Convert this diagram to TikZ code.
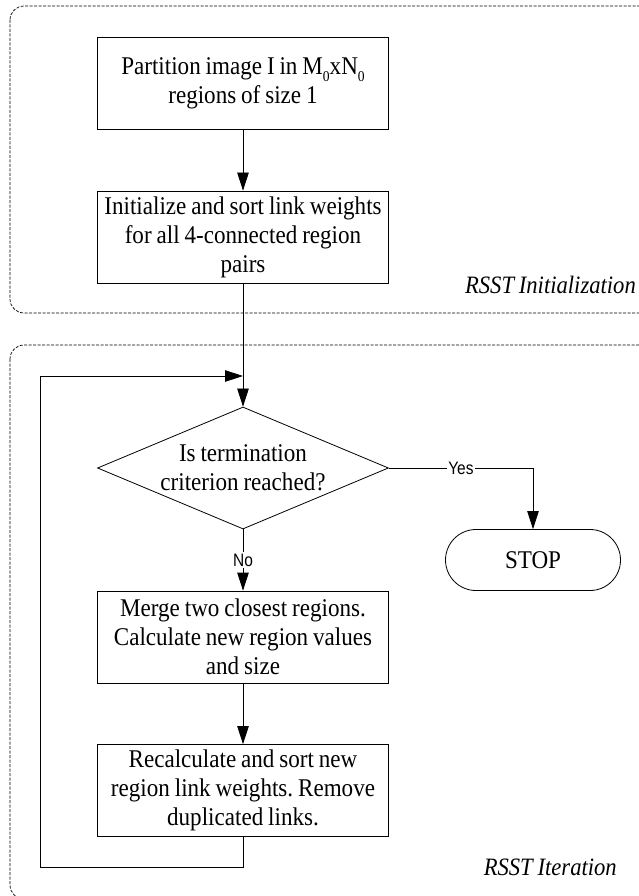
\documentclass[tikz,border=0pt]{standalone}
\usepackage{fontspec}
\setmainfont{Liberation Serif}[FakeStretch=0.905,WordSpace=0.85]
\newfontfamily\arialfont{Liberation Sans}[FakeStretch=0.86]
\usetikzlibrary{arrows.meta,shapes.geometric,shapes.misc}
\frenchspacing
\newcommand{\lowsub}[1]{\raisebox{-0.3em}{\fontsize{15}{15}\selectfont #1}}
\begin{document}
\begin{tikzpicture}[x=1pt,y=-1pt,
  procbox/.style={draw, line width=0.8pt, minimum width=291pt, minimum height=92pt,
    inner sep=0pt, align=center, font=\fontsize{25.5}{29}\selectfont},
  decision/.style={draw, line width=0.8pt, shape=diamond, aspect=2.385,
    minimum width=291pt, minimum height=122pt, inner sep=0pt, align=center,
    font=\fontsize{25.5}{29}\selectfont},
  terminal/.style={draw, line width=0.8pt, shape=rounded rectangle,
    minimum width=175pt, minimum height=61pt, inner sep=0pt,
    font=\fontsize{25.5}{29}\selectfont},
  arr/.style={-{Triangle[length=18pt,width=11.5pt]}, line width=0.8pt},
  yesno/.style={fill=white, inner sep=1.5pt, font=\arialfont\fontsize{18}{18}\selectfont},
  grouplbl/.style={anchor=east, inner sep=0pt, font=\itshape\fontsize{25}{29}\selectfont},
  dashbox/.style={draw, line width=0.7pt, dash pattern=on 3pt off 1.5pt, rounded corners=14pt}
]
\useasboundingbox (0,0) rectangle (639,896);
\clip (0,0) rectangle (639,896);
\fill[white] (0,0) rectangle (639,896);

% group frames
\draw[dashbox] (10,6) rectangle (680,313);
\draw[dashbox] (10,345) rectangle (680,899);

% nodes
\node[procbox] (b1) at (243,83) {Partition image I in M\lowsub{0}xN\lowsub{0}\\regions of size 1};
\node[procbox] (b2) at (243,237) {Initialize and sort link weights\\for all 4-connected region\\pairs};
\node[decision] (dia) at (243,468) {Is termination\\criterion reached?};
\node[terminal] (stop) at (533,560) {STOP};
\node[procbox] (b3) at (243,637) {Merge two closest regions.\\Calculate new region values\\and size};
\node[procbox] (b4) at (243,790.5) {Recalculate and sort new\\region link weights. Remove\\duplicated links.};

\node[grouplbl] (initlbl) at (636,285) {RSST Initialization};
\node[grouplbl] (iterlbl) at (617,867) {RSST Iteration};

% connectors
\coordinate (ycorner) at (533,468);
\coordinate (lb) at (40,867);
\coordinate (lt) at (40,376);
\coordinate (lin) at (243,376);

\draw[arr] (b1) -- (b2);
\draw[arr] (b2) -- (dia);
\draw[arr] (dia.east) -- node[yesno]{Yes} (ycorner) -- (stop.north);
\draw[arr] (dia.south) -- node[yesno]{No} (b3.north);
\draw[arr] (b3) -- (b4);
\draw[arr] (b4.south) |- (lb) -- (lt) -- (lin);
\end{tikzpicture}
\end{document}
